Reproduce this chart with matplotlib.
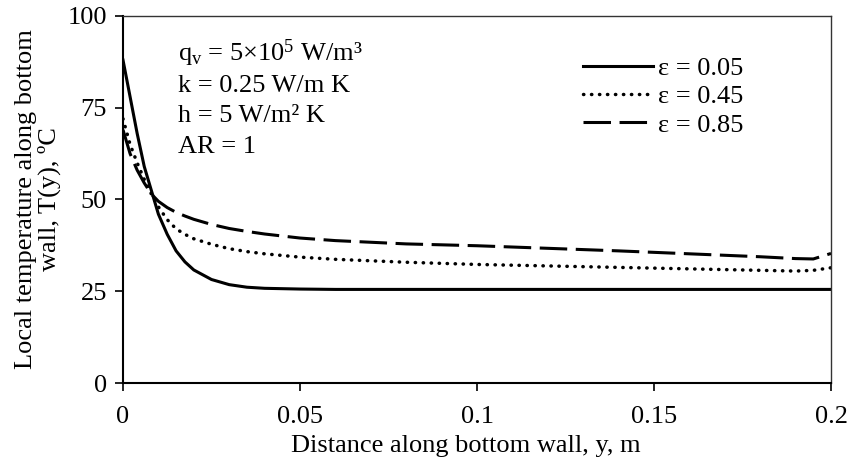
import matplotlib
matplotlib.use("Agg")
import matplotlib.pyplot as plt

plt.rcParams['font.family'] = ['Liberation Serif', 'DejaVu Serif']
plt.rcParams['mathtext.fontset'] = 'custom'
plt.rcParams['mathtext.rm'] = 'Liberation Serif'
plt.rcParams['mathtext.it'] = 'Liberation Serif:italic'

# distance along bottom wall (m)
y_pos = [0, 0.002, 0.004, 0.006, 0.008, 0.01, 0.0125, 0.015, 0.0175, 0.02,
         0.025, 0.03, 0.035, 0.04, 0.05, 0.06, 0.08, 0.1, 0.12, 0.14,
         0.16, 0.18, 0.19, 0.195, 0.2]

# local temperature (C)
t_eps005 = [88, 78, 68, 59, 52.5, 46, 40.5, 36, 33, 30.8,
            28.2, 26.8, 26.1, 25.8, 25.6, 25.5, 25.5, 25.5, 25.5, 25.5,
            25.5, 25.5, 25.5, 25.5, 25.5]
t_eps045 = [72, 65, 60, 55.5, 51.5, 48, 44.5, 42, 40.5, 39.3,
            37.8, 36.6, 35.8, 35.2, 34.3, 33.7, 32.9, 32.3, 31.9, 31.5,
            31.1, 30.7, 30.5, 30.7, 31.4]
t_eps085 = [69, 62.5, 58, 54.5, 51.5, 49.5, 47.8, 46.5, 45.5, 44.6,
            43.2, 42.1, 41.3, 40.6, 39.5, 38.8, 37.9, 37.4, 36.7, 36.0,
            35.2, 34.4, 33.9, 33.8, 35.3]

xticks = [0, 0.05, 0.1, 0.15, 0.2]
xticklabels = ['0', '0.05', '0.1', '0.15', '0.2']
yticks = [0, 25, 50, 75, 100]

notes = ['q$_\\mathrm{v}$ = 5×10$^\\mathrm{5}$ W/m³',
         'k = 0.25 W/m K',
         'h = 5 W/m² K',
         'AR = 1']

fs = 19

fig = plt.figure(figsize=(8.52, 4.65), dpi=100)
ax = fig.add_axes([123/852, 1-383/465, (831-123)/852, (383-16)/465])

ax.plot(y_pos, t_eps005, color='black', lw=2.2, ls='-', label='ε = 0.05')
ax.plot(y_pos, t_eps045, color='black', lw=2.5, ls=(0, (0.1, 2.2)),
        dash_capstyle='round', label='ε = 0.45')
ax.plot(y_pos, t_eps085, color='black', lw=2.2, ls=(0, (9, 2.8)),
        label='ε = 0.85')

ax.set_xlim(0, 0.2)
ax.set_ylim(0, 100)
ax.set_xticks(xticks)
ax.set_xticklabels(xticklabels)
ax.set_yticks(yticks)
ax.tick_params(direction='out', length=5.5, width=1.2, labelsize=fs)
ax.tick_params(axis='x', pad=11)
ax.tick_params(axis='y', pad=6)

for s in ['left', 'bottom']:
    ax.spines[s].set_linewidth(1.5)
    ax.spines[s].set_color('black')
for s in ['top', 'right']:
    ax.spines[s].set_linewidth(1.0)
    ax.spines[s].set_color('#333333')

ax.set_xlabel('Distance along bottom wall, y, m', fontsize=fs)
ax.xaxis.set_label_coords(0.4845, -0.141)
ax.set_ylabel('Local temperature along bottom\nwall, T(y), ºC', fontsize=fs,
              linespacing=1.0)
ax.yaxis.set_label_coords(-0.088, 0.5)

# parameter notes, one line each (baseline positions in axes fraction)
for i, note in enumerate(notes):
    ax.text(0.078, 0.8774 - i * 0.0836, note, transform=ax.transAxes,
            fontsize=fs, va='baseline', ha='left')

ax.legend(loc='upper left', bbox_to_anchor=(0.65, 0.889), frameon=False,
          fontsize=fs, handlelength=2.65, handletextpad=0.2,
          labelspacing=0.18, borderpad=0, borderaxespad=0)

fig.savefig('out.png', dpi=100)
